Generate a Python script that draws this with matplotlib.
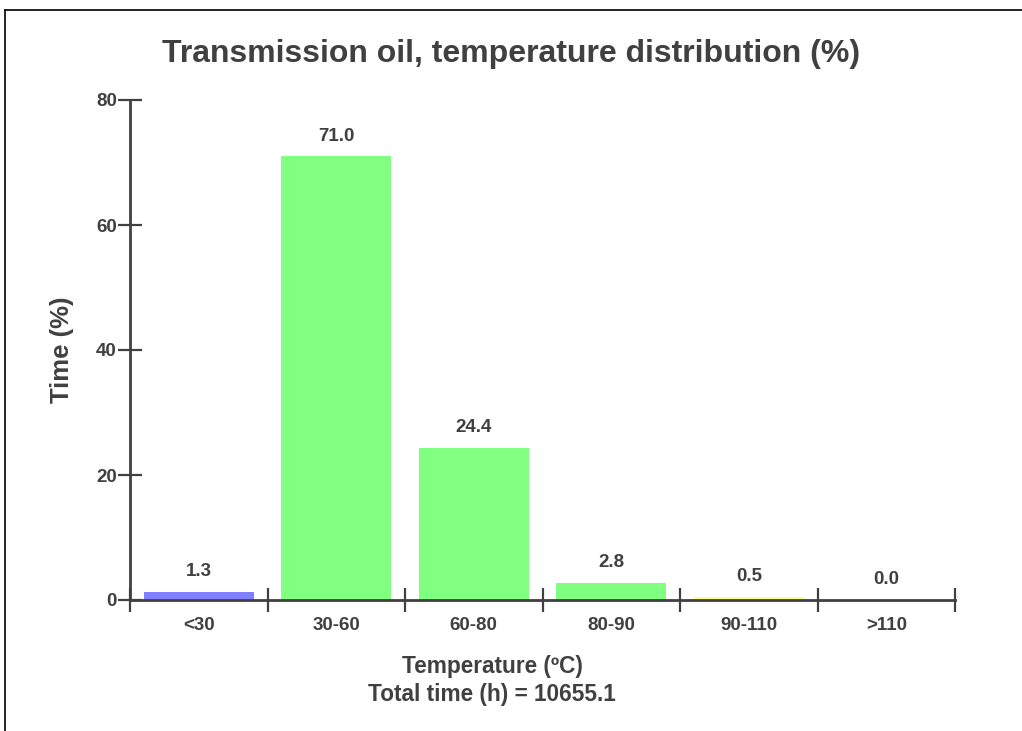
import matplotlib
matplotlib.use("Agg")
import matplotlib.pyplot as plt
from matplotlib.lines import Line2D

# data
categories = ["<30", "30-60", "60-80", "80-90", "90-110", ">110"]
values = [1.3, 71.0, 24.4, 2.8, 0.5, 0.0]
bar_colors = ["#7f7fff", "#80ff80", "#80ff80", "#80ff80", "#ffff80", "#ff8080"]
total_time = 10655.1

txt = "#404040"
plt.rcParams["font.family"] = ["Liberation Sans", "DejaVu Sans"]
plt.rcParams["font.weight"] = "bold"

fig = plt.figure(figsize=(10.22, 7.31), dpi=100)
ax = fig.add_axes([130 / 1022, 131 / 731, 825 / 1022, 500 / 731])

x = [i + 0.5 for i in range(len(categories))]
ax.bar(x, values, width=0.8, color=bar_colors)
for xi, v in zip(x, values):
    ax.text(xi, v + 3.2, f"{v:.1f}", ha="center", va="center",
            fontsize=13.5, fontweight="bold", color=txt)

ax.set_xlim(0, len(categories))
ax.set_ylim(0, 80)

for s in ["top", "right"]:
    ax.spines[s].set_visible(False)
for s in ["left", "bottom"]:
    ax.spines[s].set_linewidth(2)
    ax.spines[s].set_color(txt)

ax.set_yticks([0, 20, 40, 60, 80])
ax.tick_params(axis="y", direction="inout", length=17, width=1.6, color=txt,
               labelsize=13.5, labelcolor=txt, pad=1)
ax.set_xticks(range(len(categories) + 1))
ax.set_xticklabels([])
ax.set_xticks(x, minor=True)
ax.set_xticklabels(categories, minor=True)
ax.tick_params(axis="x", which="major", direction="inout", length=17, width=1.6, color=txt)
ax.tick_params(axis="x", which="minor", length=0, labelsize=13.5, labelcolor=txt, pad=12)
for lbl in ax.get_yticklabels() + ax.get_xticklabels(minor=True):
    lbl.set_fontweight("bold")

ax.set_ylabel("Time (%)", fontsize=18.5, fontweight="bold", color=txt, labelpad=16)

fig.text(511 / 1022, 1 - 54 / 731, "Transmission oil, temperature distribution (%)",
         ha="center", va="center", fontsize=23, fontweight="bold", color=txt)
fig.text(492 / 1022, 1 - 667 / 731, "Temperature (ºC)", ha="center", va="center",
         fontsize=16.3, fontweight="bold", color=txt)
fig.text(492 / 1022, 1 - 694 / 731, f"Total time (h) = {total_time}", ha="center",
         va="center", fontsize=16.3, fontweight="bold", color=txt)

# frame on top and left edge
fig.add_artist(Line2D([5 / 1022, 5 / 1022], [0, 1 - 10 / 731], transform=fig.transFigure,
                      color="black", linewidth=1.2))
fig.add_artist(Line2D([5 / 1022, 1], [1 - 10 / 731, 1 - 10 / 731], transform=fig.transFigure,
                      color="black", linewidth=1.2))

fig.savefig("out.png", dpi=100)
